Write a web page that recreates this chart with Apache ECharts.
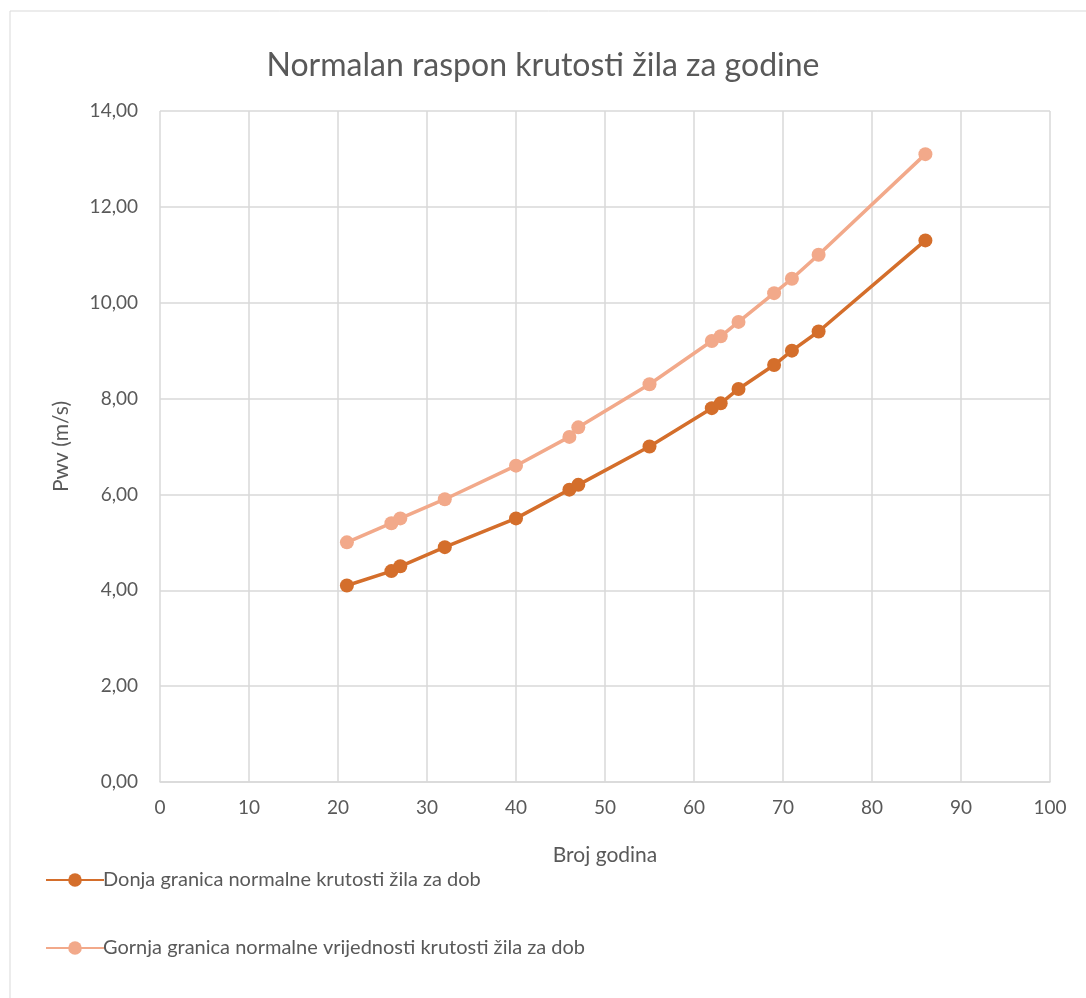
<!DOCTYPE html>
<html lang="hr">
<head>
    <meta charset="UTF-8">
    <title>Normalan raspon krutosti žila za godine</title>
    <script src="https://cdn.jsdelivr.net/npm/echarts@6/dist/echarts.min.js"></script>
    <style>
        html, body { margin: 0; padding: 0; background: #fff; }
        #grafica { width: 1086px; height: 998px; }
    </style>
</head>
<body>
    <div id="grafica"></div>
    <script>
        // podaci procijenjeni sa slike
        let godine = [21, 26, 27, 32, 40, 46, 47, 55, 62, 63, 65, 69, 71, 74, 86];
        let donjaGranica = [4.1, 4.4, 4.5, 4.9, 5.5, 6.1, 6.2, 7.0, 7.8, 7.9, 8.2, 8.7, 9.0, 9.4, 11.3];
        let gornjaGranica = [5.0, 5.4, 5.5, 5.9, 6.6, 7.2, 7.4, 8.3, 9.2, 9.3, 9.6, 10.2, 10.5, 11.0, 13.1];
        let nazivi = [
            'Donja granica normalne krutosti žila za dob',
            'Gornja granica normalne vrijednosti krutosti žila za dob'
        ];

        let font = 'Lato, "Open Sans", sans-serif';
        let tekst = '#595959';

        let myChart = echarts.init(document.getElementById('grafica'));

        let option = {
            backgroundColor: '#fff',
            animation: false,
            textStyle: { fontFamily: font, color: tekst },
            graphic: [{
                type: 'rect',
                shape: { x: 10, y: 11, width: 1100, height: 1100 },
                style: { fill: 'none', stroke: '#d9d9d9', lineWidth: 1 }
            }],
            title: {
                text: 'Normalan raspon krutosti žila za godine',
                left: 'center',
                top: 45,
                textStyle: { fontFamily: font, fontSize: 32, fontWeight: 'normal', color: tekst }
            },
            legend: {
                orient: 'vertical',
                left: 40,
                top: 865,
                itemWidth: 58,
                itemHeight: 17,
                itemGap: 48,
                textStyle: { fontFamily: font, fontSize: 20, color: tekst, padding: [0, 0, 0, -6] },
                data: nazivi
            },
            grid: { left: 160, right: 36, top: 111, bottom: 216, containLabel: false },
            xAxis: {
                type: 'value',
                min: 0,
                max: 100,
                interval: 10,
                name: 'Broj godina',
                nameLocation: 'middle',
                nameGap: 63,
                nameTextStyle: { fontFamily: font, fontSize: 21, color: tekst },
                axisLine: { show: true, lineStyle: { color: '#d9d9d9', width: 1.5 } },
                axisTick: { show: false },
                axisLabel: { fontFamily: font, fontSize: 19, color: tekst, margin: 16 },
                splitLine: { show: true, lineStyle: { color: '#d9d9d9', width: 1.5 } }
            },
            yAxis: {
                type: 'value',
                min: 0,
                max: 14,
                interval: 2,
                name: 'Pwv (m/s)',
                nameLocation: 'middle',
                nameGap: 88,
                nameTextStyle: { fontFamily: font, fontSize: 21, color: tekst },
                axisLine: { show: false },
                axisTick: { show: false },
                axisLabel: {
                    fontFamily: font, fontSize: 19, color: tekst, margin: 22,
                    formatter: v => v.toFixed(2).replace('.', ',')
                },
                splitLine: { show: true, lineStyle: { color: '#d9d9d9', width: 1.5 } }
            },
            series: [
                {
                    name: nazivi[0],
                    type: 'line',
                    data: godine.map((g, i) => [g, donjaGranica[i]]),
                    symbol: 'circle',
                    symbolSize: 14,
                    lineStyle: { color: '#d46e2b', width: 3.5 },
                    itemStyle: { color: '#d46e2b' }
                },
                {
                    name: nazivi[1],
                    type: 'line',
                    data: godine.map((g, i) => [g, gornjaGranica[i]]),
                    symbol: 'circle',
                    symbolSize: 14,
                    lineStyle: { color: '#f2a98a', width: 3.5 },
                    itemStyle: { color: '#f2a98a' }
                }
            ]
        };

        myChart.setOption(option);
    </script>
</body>
</html>
